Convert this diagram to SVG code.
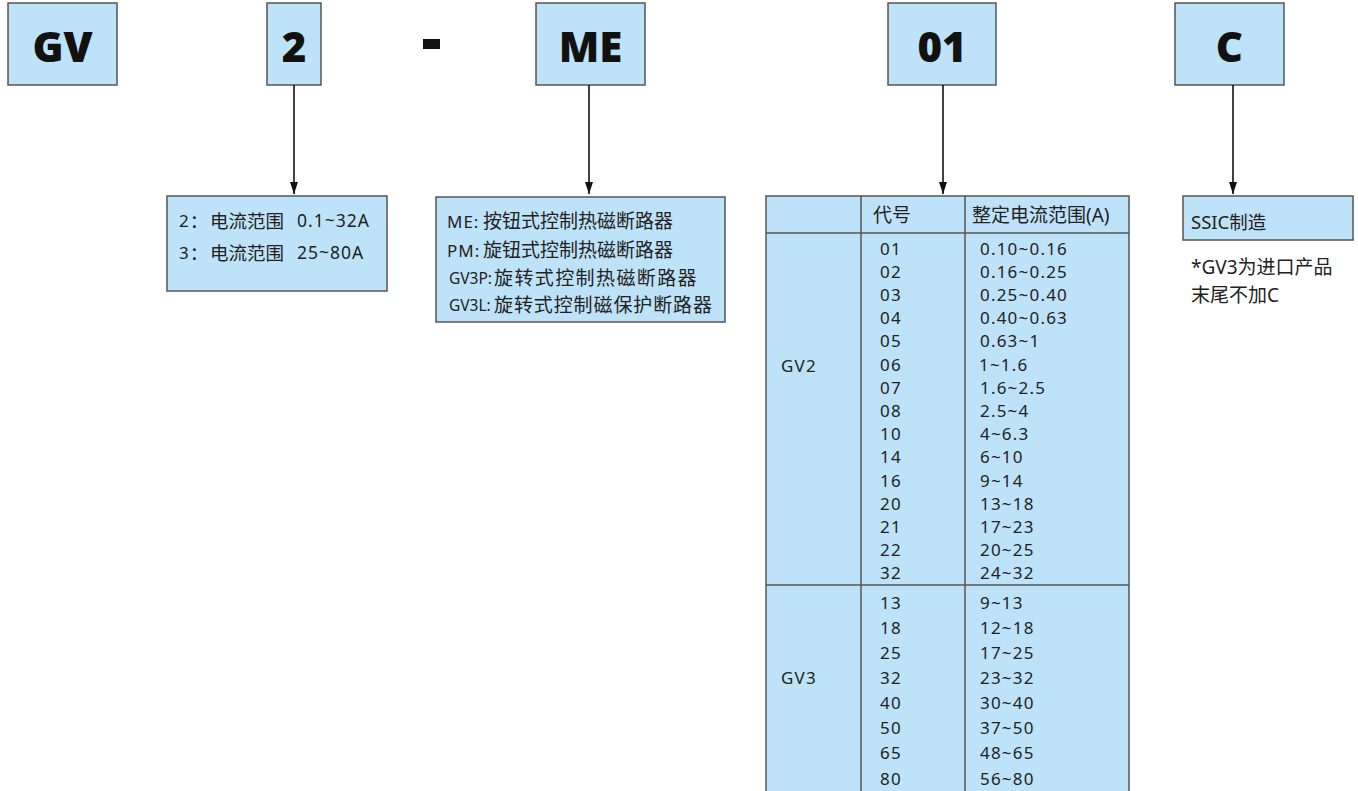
<svg xmlns="http://www.w3.org/2000/svg" width="1358" height="791" viewBox="0 0 1358 791">
<defs>
<style>
.box{fill:#BEE2F7;stroke:#555;stroke-width:1.5}
.big{font-family:"Noto Sans","Open Sans",sans-serif;font-weight:900;font-size:42px;fill:#111;text-anchor:middle}
.t{font-family:"Noto Sans","Noto Sans CJK SC",sans-serif;font-size:17px;letter-spacing:1.2px;fill:#222;dominant-baseline:central}
.c{font-family:"Noto Sans","Noto Sans CJK SC",sans-serif;font-size:18.5px;fill:#222;dominant-baseline:central}
.h{font-family:"Noto Sans","Noto Sans CJK SC",sans-serif;font-size:19px;fill:#222;dominant-baseline:central}
.lat{font-size:17px;letter-spacing:1px}
.nar{font-size:15.5px;letter-spacing:0}
.line{stroke:#111;stroke-width:1.6;fill:none}
.grid{stroke:#555;stroke-width:1.5;fill:none}
</style>
<marker id="ah" viewBox="0 0 12 10" refX="12" refY="5" markerWidth="12" markerHeight="10" markerUnits="userSpaceOnUse" orient="auto">
<path d="M0,1 L12,5 L0,9 Z" fill="#111"/>
</marker>
</defs>
<rect width="1358" height="791" fill="#fff"/>

<g id="node-gv"><rect class="box" x="8" y="3" width="109" height="82"/><text class="big" x="62.5" y="62">GV</text></g>
<g id="node-2"><rect class="box" x="267" y="3" width="54" height="82"/><text class="big" x="294" y="62">2</text></g>
<g id="node-dash"><rect x="423" y="39" width="17" height="10" fill="#111"/></g>
<g id="node-me"><rect class="box" x="536" y="3" width="109" height="82"/><text class="big" x="590.5" y="62">ME</text></g>
<g id="node-01"><rect class="box" x="888" y="3" width="108" height="82"/><text class="big" x="942" y="62">01</text></g>
<g id="node-c"><rect class="box" x="1175" y="3" width="109" height="82"/><text class="big" x="1229.5" y="62">C</text></g>

<g id="connectors">
<line class="line" x1="294" y1="85" x2="294" y2="194" marker-end="url(#ah)"/>
<line class="line" x1="589" y1="85" x2="589" y2="194" marker-end="url(#ah)"/>
<line class="line" x1="943" y1="85" x2="943" y2="194" marker-end="url(#ah)"/>
<line class="line" x1="1233" y1="85" x2="1233" y2="194" marker-end="url(#ah)"/>
</g>

<g id="node-current">
<rect class="box" x="167" y="196" width="220" height="95"/>
<text class="c" y="220"><tspan x="179" class="lat">2</tspan><tspan>：</tspan><tspan x="210">电流范围</tspan><tspan x="297" class="lat" style="font-size:17.5px">0.1~32A</tspan></text>
<text class="c" y="252"><tspan x="179" class="lat">3</tspan><tspan>：</tspan><tspan x="210">电流范围</tspan><tspan x="297" class="lat" style="font-size:17.5px">25~80A</tspan></text>
</g>

<g id="node-type">
<rect class="box" x="436" y="197" width="289" height="125"/>
<text class="c" y="221" style="font-size:19px"><tspan x="447" class="lat">ME:</tspan><tspan x="483">按钮式控制热磁断路器</tspan></text>
<text class="c" y="250" style="font-size:19px"><tspan x="447" class="lat">PM:</tspan><tspan x="483">旋钮式控制热磁断路器</tspan></text>
<text class="c" y="278" style="font-size:19px"><tspan x="449" class="nar">GV3P:</tspan><tspan x="494" style="letter-spacing:1.4px">旋转式控制热磁断路器</tspan></text>
<text class="c" y="305" style="font-size:19px"><tspan x="449" class="nar">GV3L:</tspan><tspan x="494" style="letter-spacing:0.9px">旋转式控制磁保护断路器</tspan></text>
</g>

<g id="node-table">
<rect class="box" x="766" y="196" width="363" height="600"/>
<line class="grid" x1="861" y1="196" x2="861" y2="796"/>
<line class="grid" x1="965" y1="196" x2="965" y2="796"/>
<line class="grid" x1="766" y1="233" x2="1129" y2="233"/>
<line class="grid" x1="766" y1="585" x2="1129" y2="585"/>
<text class="h" x="873" y="215">代号</text>
<text class="h" x="972" y="215">整定电流范围(A)</text>
<text class="t" x="781" y="365">GV2</text>
<text class="t" x="781" y="677">GV3</text>
<g class="codes">
<text class="t" x="880" y="248">01</text>
<text class="t" x="880" y="271.2">02</text>
<text class="t" x="880" y="294.4">03</text>
<text class="t" x="880" y="317.6">04</text>
<text class="t" x="880" y="340.8">05</text>
<text class="t" x="880" y="364">06</text>
<text class="t" x="880" y="387.2">07</text>
<text class="t" x="880" y="410.4">08</text>
<text class="t" x="880" y="433.6">10</text>
<text class="t" x="880" y="456.8">14</text>
<text class="t" x="880" y="480">16</text>
<text class="t" x="880" y="503.2">20</text>
<text class="t" x="880" y="526.4">21</text>
<text class="t" x="880" y="549.6">22</text>
<text class="t" x="880" y="572.8">32</text>
<text class="t" x="880" y="602">13</text>
<text class="t" x="880" y="627">18</text>
<text class="t" x="880" y="652">25</text>
<text class="t" x="880" y="677">32</text>
<text class="t" x="880" y="702">40</text>
<text class="t" x="880" y="727">50</text>
<text class="t" x="880" y="752.5">65</text>
<text class="t" x="880" y="778">80</text>
</g>
<g class="ranges">
<text class="t" x="980" y="248">0.10~0.16</text>
<text class="t" x="980" y="271.2">0.16~0.25</text>
<text class="t" x="980" y="294.4">0.25~0.40</text>
<text class="t" x="980" y="317.6">0.40~0.63</text>
<text class="t" x="980" y="340.8">0.63~1</text>
<text class="t" x="979" y="364">1~1.6</text>
<text class="t" x="980" y="387.2">1.6~2.5</text>
<text class="t" x="980" y="410.4">2.5~4</text>
<text class="t" x="980" y="433.6">4~6.3</text>
<text class="t" x="980" y="456.8">6~10</text>
<text class="t" x="980" y="480">9~14</text>
<text class="t" x="980" y="503.2">13~18</text>
<text class="t" x="980" y="526.4">17~23</text>
<text class="t" x="980" y="549.6">20~25</text>
<text class="t" x="980" y="572.8">24~32</text>
<text class="t" x="980" y="602">9~13</text>
<text class="t" x="980" y="627">12~18</text>
<text class="t" x="980" y="652">17~25</text>
<text class="t" x="980" y="677">23~32</text>
<text class="t" x="980" y="702">30~40</text>
<text class="t" x="980" y="727">37~50</text>
<text class="t" x="980" y="752.5">48~65</text>
<text class="t" x="980" y="778">56~80</text>
</g>
</g>

<g id="node-ssic">
<rect class="box" x="1183" y="196" width="170" height="44"/>
<text class="c" x="1191" y="221">SSIC制造</text>
</g>
<g id="note">
<text class="h" x="1191" y="267">*GV3为进口产品</text>
<text class="h" x="1191" y="295">末尾不加C</text>
</g>
</svg>
